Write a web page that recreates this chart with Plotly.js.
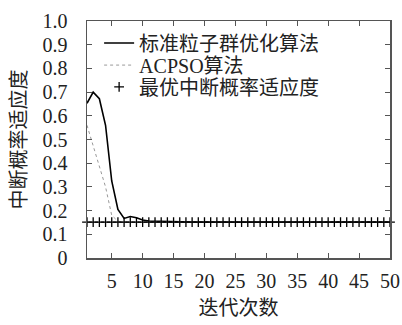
<!DOCTYPE html>
<html>
<head>
<meta charset="utf-8">
<script src="https://cdn.plot.ly/plotly-3.0.1.min.js"></script>
<style>html,body{margin:0;padding:0;background:#fff;}#chart{width:402px;height:325px;}</style>
</head>
<body>
<div id="chart"></div>
<script>
var iterations = [];
for (var i = 1; i <= 50; i++) iterations.push(i);

var standardPSO = [0.653, 0.700, 0.672, 0.560, 0.325, 0.205, 0.167, 0.175, 0.170, 0.160,
  0.156, 0.155, 0.154, 0.154, 0.153, 0.153, 0.153, 0.152, 0.152, 0.152,
  0.152, 0.152, 0.152, 0.152, 0.152, 0.152, 0.152, 0.152, 0.152, 0.152,
  0.152, 0.152, 0.152, 0.152, 0.152, 0.152, 0.152, 0.152, 0.152, 0.152,
  0.152, 0.152, 0.152, 0.152, 0.152, 0.152, 0.152, 0.152, 0.152, 0.152];

var acpso = [0.560, 0.475, 0.390, 0.300, 0.180, 0.155, 0.152, 0.152, 0.152, 0.152,
  0.152, 0.152, 0.152, 0.152, 0.152, 0.152, 0.152, 0.152, 0.152, 0.152,
  0.152, 0.152, 0.152, 0.152, 0.152, 0.152, 0.152, 0.152, 0.152, 0.152,
  0.152, 0.152, 0.152, 0.152, 0.152, 0.152, 0.152, 0.152, 0.152, 0.152,
  0.152, 0.152, 0.152, 0.152, 0.152, 0.152, 0.152, 0.152, 0.152, 0.152];

var optimal = [];
for (var j = 0; j < 50; j++) optimal.push(0.151);

var seriesNames = ['标准粒子群优化算法', 'ACPSO算法', '最优中断概率适应度'];
var xTickVals = [5, 10, 15, 20, 25, 30, 35, 40, 45, 50];
var yTickVals = [0, 0.1, 0.2, 0.3, 0.4, 0.5, 0.6, 0.7, 0.8, 0.9, 1.0];
var yTickText = ['0', '0.1', '0.2', '0.3', '0.4', '0.5', '0.6', '0.7', '0.8', '0.9', '1.0'];

var serif = 'Liberation Serif, DejaVu Serif, serif';
var mixed = 'Liberation Serif, Noto Sans CJK SC, serif';
var cjk = 'Noto Sans CJK SC, sans-serif';

var traces = [
  {x: iterations, y: standardPSO, name: seriesNames[0], type: 'scatter', mode: 'lines',
   line: {color: '#000', width: 1.6}, legend: 'legend'},
  {x: iterations, y: acpso, name: seriesNames[1], type: 'scatter', mode: 'lines',
   line: {color: '#999', width: 1, dash: '3px,3px'}, legend: 'legend2'},
  {x: iterations, y: optimal, name: seriesNames[2], type: 'scatter', mode: 'markers',
   marker: {symbol: 'cross-thin', size: 7, color: '#000', line: {color: '#000', width: 1.3}},
   cliponaxis: false, legend: 'legend3'}
];

function legendAt(yp) {
  return {x: 0.04, y: yp, xanchor: 'left', yanchor: 'middle', bgcolor: 'rgba(0,0,0,0)',
    font: {family: mixed, size: 20, color: '#222'}, itemwidth: 30};
}

var layout = {
  width: 402, height: 325,
  margin: {l: 87, r: 12, t: 21, b: 67},
  paper_bgcolor: '#fff', plot_bgcolor: '#fff',
  showlegend: true,
  legend: legendAt(0.907),
  legend2: legendAt(0.814),
  legend3: legendAt(0.722),
  xaxis: {range: [1, 50], tickvals: xTickVals, ticks: 'inside', ticklen: 5, tickcolor: '#555',
    showline: true, linecolor: '#555', linewidth: 1.5, mirror: 'ticks', showgrid: false, zeroline: false,
    tickfont: {family: serif, size: 20, color: '#222'}, ticklabelstandoff: 4,
    title: {text: '迭代次数', font: {family: cjk, size: 20, color: '#222'}, standoff: 10}},
  yaxis: {range: [0, 1], tickvals: yTickVals, ticktext: yTickText, ticks: 'inside', ticklen: 5, tickcolor: '#555',
    showline: true, linecolor: '#555', linewidth: 1.5, mirror: 'ticks', showgrid: false, zeroline: false,
    tickfont: {family: serif, size: 20, color: '#222'}, ticklabelstandoff: 14,
    title: {text: '中断概率适应度', font: {family: cjk, size: 20, color: '#222'}, standoff: 10}}
};

Plotly.newPlot('chart', traces, layout, {displayModeBar: false, staticPlot: true});
</script>
</body>
</html>
